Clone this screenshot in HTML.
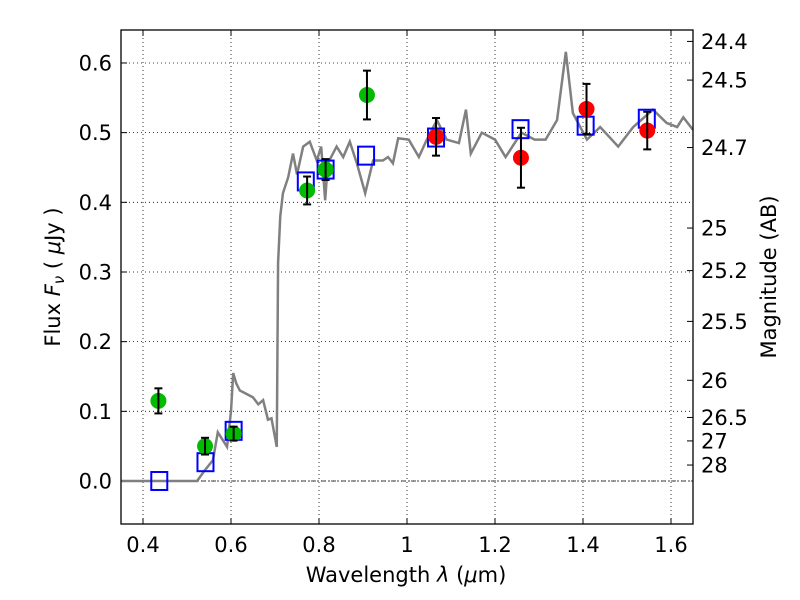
<!DOCTYPE html>
<html><head><meta charset="utf-8"><style>body{margin:0;background:#fff}svg{display:block}text{font-family:"DejaVu Sans","Liberation Sans",sans-serif}</style></head>
<body>
<svg id="c" width="800" height="600"></svg>
<script>
const specX=[0.35,0.40,0.45,0.50,0.523,0.54,0.559,0.57,0.58,0.591,0.60,0.605,0.612,0.62,0.635,0.65,0.662,0.673,0.684,0.692,0.704,0.707,0.712,0.718,0.73,0.741,0.75,0.764,0.779,0.795,0.805,0.814,0.82,0.84,0.855,0.87,0.886,0.905,0.923,0.945,0.957,0.968,0.98,1.004,1.027,1.045,1.068,1.09,1.118,1.134,1.145,1.17,1.2,1.224,1.26,1.29,1.315,1.341,1.361,1.377,1.409,1.439,1.48,1.514,1.559,1.59,1.614,1.628,1.65];
const specY=[0,0,0,0,0,0.015,0.03,0.07,0.06,0.049,0.1,0.155,0.14,0.13,0.125,0.12,0.11,0.116,0.088,0.09,0.049,0.313,0.38,0.413,0.436,0.47,0.44,0.48,0.487,0.46,0.48,0.403,0.456,0.48,0.465,0.487,0.456,0.413,0.46,0.46,0.465,0.456,0.492,0.49,0.465,0.49,0.518,0.49,0.485,0.533,0.47,0.5,0.49,0.465,0.5,0.49,0.49,0.518,0.616,0.528,0.49,0.508,0.48,0.508,0.533,0.514,0.508,0.522,0.504];
const greenX=[0.435,0.541,0.606,0.773,0.815,0.909];
const greenY=[0.115,0.05,0.068,0.417,0.447,0.554];
const greenErr=[0.018,0.012,0.01,0.02,0.015,0.035];
const redX=[1.066,1.259,1.408,1.546];
const redY=[0.494,0.464,0.534,0.503];
const redErr=[0.027,0.043,0.036,0.027];
const sqX=[0.437,0.542,0.606,0.77,0.815,0.907,1.066,1.258,1.406,1.545];
const sqY=[0.0,0.027,0.072,0.43,0.447,0.467,0.493,0.505,0.51,0.52];
const xTicks=[0.4,0.6,0.8,1,1.2,1.4,1.6];
const xTickLabels=["0.4","0.6","0.8","1","1.2","1.4","1.6"];
const yTicks=[0,0.1,0.2,0.3,0.4,0.5,0.6];
const yTickLabels=["0.0","0.1","0.2","0.3","0.4","0.5","0.6"];
const magTicks=[24.4,24.5,24.7,25,25.2,25.5,26,26.5,27,28];

const L=121,R=693,T=30,B=524,FS=21;
const X=v=>L+(v-0.35)/(1.65-0.35)*(R-L);
const Y=v=>481-v*696.7;
const svg=document.getElementById('c');
const NS='http://www.w3.org/2000/svg';
function mk(t,a,p){const e=document.createElementNS(NS,t);for(const k in a)e.setAttribute(k,a[k]);(p||svg).appendChild(e);return e;}
xTicks.forEach((v,i)=>{
 const g=mk('line',{x1:X(v),x2:X(v),y1:T,y2:B,stroke:'#000','stroke-width':0.8,'stroke-dasharray':'1,3'});
 
 
 mk('line',{x1:X(v),x2:X(v),y1:B,y2:B-6,stroke:'#000'});
 mk('line',{x1:X(v),x2:X(v),y1:T,y2:T+6,stroke:'#000'});
 const t=mk('text',{x:X(v),y:B+28,'font-size':FS,'text-anchor':'middle'});t.textContent=xTickLabels[i];
 
 
});
yTicks.forEach((v,i)=>{
 const g=mk('line',{x1:L,x2:R,y1:Y(v),y2:Y(v),stroke:'#000','stroke-width':0.8,'stroke-dasharray':'1,3'});
 
 
 mk('line',{x1:L,x2:L+6,y1:Y(v),y2:Y(v),stroke:'#000'});
 const t=mk('text',{x:L-9,y:Y(v)+7.5,'font-size':FS,'text-anchor':'end'});t.textContent=yTickLabels[i];
 
 
});
magTicks.forEach(m=>{
 const f=Math.pow(10,(23.9-m)/2.5);const y=Y(f);
 mk('line',{x1:R,x2:R-6,y1:y,y2:y,stroke:'#000'});
 const t=mk('text',{x:R+8,y:y+7.5,'font-size':FS});t.textContent=String(m);
 
 
});
const z=mk('line',{x1:L,x2:R,y1:Y(0),y2:Y(0),stroke:'#000','stroke-width':0.8,'stroke-dasharray':'5,2,1,2'});


const sp=mk('polyline',{points:specX.map((x,i)=>X(x)+','+Y(specY[i])).join(' '),fill:'none',stroke:'#808080','stroke-width':2.5});


sqX.forEach((x,i)=>{
 const r=mk('rect',{x:X(x)-8,y:Y(sqY[i])-9,width:16,height:18,fill:'none',stroke:'#0000ff','stroke-width':2});
 
 
});
function pts(xs,ys,es,col,name){
 xs.forEach((x,i)=>{
  const g=mk('g',{});
  
  
  mk('circle',{cx:X(x),cy:Y(ys[i]),r:8,fill:col},g);
  const y1=Y(ys[i]-es[i]),y2=Y(ys[i]+es[i]);
  mk('line',{x1:X(x),x2:X(x),y1:y1,y2:y2,stroke:'#000','stroke-width':2},g);
  mk('line',{x1:X(x)-4,x2:X(x)+4,y1:y1,y2:y1,stroke:'#000','stroke-width':2},g);
  mk('line',{x1:X(x)-4,x2:X(x)+4,y1:y2,y2:y2,stroke:'#000','stroke-width':2},g);
 });
}
pts(greenX,greenY,greenErr,'#00bb00','optical-data-point');
pts(redX,redY,redErr,'#ff0000','nir-data-point');
const fr=mk('rect',{x:L,y:T,width:R-L,height:B-T,fill:'none',stroke:'#000','stroke-width':1.3});


</script>
<svg width="800" height="600" style="position:absolute;left:0;top:0">
<text x="406" y="582" font-size="21" text-anchor="middle" style="font-family:'DejaVu Sans',sans-serif">Wavelength  <tspan font-style="italic">λ</tspan> (<tspan font-style="italic">μ</tspan>m)</text>
<text transform="translate(60,277) rotate(-90)" font-size="21" text-anchor="middle" style="font-family:'DejaVu Sans',sans-serif">Flux  <tspan font-style="italic">F</tspan><tspan font-style="italic" font-size="15" dy="4">ν</tspan><tspan dy="-4">  ( </tspan><tspan font-style="italic">μ</tspan>Jy )</text>
<text transform="translate(776,277) rotate(-90)" font-size="21" text-anchor="middle" style="font-family:'DejaVu Sans',sans-serif">Magnitude (AB)</text>
</svg>
</body></html>
